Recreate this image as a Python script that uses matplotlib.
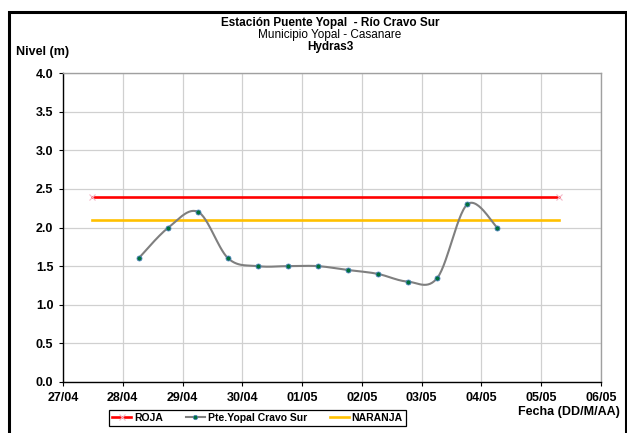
import matplotlib
matplotlib.use("Agg")
import matplotlib.pyplot as plt
import matplotlib.dates as mdates
from matplotlib.patches import Rectangle
from matplotlib.lines import Line2D
import numpy as np
import pandas as pd

plt.rcParams['font.family'] = ['Liberation Sans', 'DejaVu Sans']

# nivel del rio (cada 12 h)
fechas = ["2021-04-28 06:20", "2021-04-28 18:20", "2021-04-29 06:20", "2021-04-29 18:20",
          "2021-04-30 06:20", "2021-04-30 18:20", "2021-05-01 06:20", "2021-05-01 18:20",
          "2021-05-02 06:20", "2021-05-02 18:20", "2021-05-03 06:20", "2021-05-03 18:20",
          "2021-05-04 06:20"]
nivel = [1.6, 2.0, 2.2, 1.6, 1.5, 1.5, 1.5, 1.45, 1.4, 1.3, 1.35, 2.3, 2.0]

# umbrales de alerta
fechas_umbral = ["2021-04-27 11:40", "2021-05-05 07:10"]
roja = [2.4, 2.4]
naranja = [2.1, 2.1]

ticks_x = pd.date_range("2021-04-27", "2021-05-06", freq="D")
ticks_y = [0.0, 0.5, 1.0, 1.5, 2.0, 2.5, 3.0, 3.5, 4.0]


def suavizar(x, y, n=30):
    # curva suavizada tipo Excel (bezier con puntos de control catmull-rom)
    x = np.asarray(x, float); y = np.asarray(y, float)
    px = np.concatenate([[x[0]], x, [x[-1]]])
    py = np.concatenate([[y[0]], y, [y[-1]]])
    xs, ys = [], []
    t = np.linspace(0, 1, n)
    for i in range(len(x) - 1):
        p0 = np.array([px[i + 1], py[i + 1]])
        p3 = np.array([px[i + 2], py[i + 2]])
        p1 = p0 + (np.array([px[i + 2], py[i + 2]]) - np.array([px[i], py[i]])) / 6
        p2 = p3 - (np.array([px[i + 3], py[i + 3]]) - np.array([px[i + 1], py[i + 1]])) / 6
        b = ((1 - t) ** 3)[:, None] * p0 + (3 * (1 - t) ** 2 * t)[:, None] * p1 \
            + (3 * (1 - t) * t ** 2)[:, None] * p2 + (t ** 3)[:, None] * p3
        xs.extend(b[:, 0]); ys.extend(b[:, 1])
    return np.array(xs), np.array(ys)


W, H = 627, 433
fig = plt.figure(figsize=(W / 100, H / 100), dpi=100)
ax = fig.add_axes([63 / W, 1 - 382 / H, (601 - 63) / W, (382 - 73) / H])

xd = mdates.date2num(pd.to_datetime(fechas))
xu = mdates.date2num(pd.to_datetime(fechas_umbral))

ax.plot(xu, roja, color='#FF0000', lw=1.9, marker='x', ms=4, mec='#F4B8C8', mew=0.8,
        label='ROJA', zorder=3)
sx, sy = suavizar(xd, nivel)
ax.plot(sx, sy, color='#7F7F7F', lw=1.5, zorder=4)
ax.plot(xd, nivel, ls='none', marker='o', ms=3.6, mfc='#00703C', mec='#4F81BD', mew=0.6,
        zorder=5)
ax.plot(xu, naranja, color='#FFC000', lw=1.9, label='NARANJA', zorder=3)

ax.set_xlim(mdates.date2num(ticks_x[0]), mdates.date2num(ticks_x[-1]))
ax.set_ylim(0, 4)
ax.set_xticks(mdates.date2num(ticks_x))
ax.set_yticks(ticks_y)
ax.xaxis.set_major_formatter(mdates.DateFormatter('%d/%m'))
ax.yaxis.set_major_formatter(plt.FuncFormatter(lambda v, p: f"{v:.1f}"))
ax.grid(True, color='#D0D0D0', lw=0.9)
ax.set_axisbelow(True)
for s in ['top', 'right']:
    ax.spines[s].set_color('#A0A0A0')
    ax.spines[s].set_linewidth(1.0)
for s in ['left', 'bottom']:
    ax.spines[s].set_color('black')
    ax.spines[s].set_linewidth(1.0)
ax.tick_params(axis='both', direction='out', length=3, width=0.8, labelsize=9, pad=4)
for lab in ax.get_xticklabels() + ax.get_yticklabels():
    lab.set_fontweight('bold')

# leyenda
handles = [
    Line2D([], [], color='#FF0000', lw=1.9, marker='x', ms=4, mec='#F4B8C8', mew=0.8),
    Line2D([], [], color='#7F7F7F', lw=1.5, marker='o', ms=3.2, mfc='#00703C', mec='#4F81BD', mew=0.5),
    Line2D([], [], color='#FFC000', lw=1.9),
]
leg = fig.legend(handles, ['ROJA', 'Pte.Yopal Cravo Sur', 'NARANJA'], ncol=3,
                 loc='center', bbox_to_anchor=(257.5 / W, 1 - 418 / H),
                 fancybox=False, edgecolor='black', framealpha=1,
                 prop={'size': 7.5, 'weight': 'bold'}, handlelength=1.8,
                 handletextpad=0.3, columnspacing=2.2, borderpad=0.3)
leg.get_frame().set_linewidth(0.9)

# titulos
fig.text(330 / W, 1 - 23 / H, "Estación Puente Yopal  - Río Cravo Sur", ha='center', va='center',
         fontsize=8.5, fontweight='bold')
fig.text(330 / W, 1 - 35 / H, "Municipio Yopal - Casanare", ha='center', va='center', fontsize=8.5)
fig.text(330 / W, 1 - 47 / H, "Hydras3", ha='center', va='center', fontsize=8.5, fontweight='bold')
fig.text(16 / W, 1 - 52 / H, "Nivel (m)", ha='left', va='center', fontsize=9, fontweight='bold')
fig.text(620 / W, 1 - 412 / H, "Fecha (DD/M/AA)", ha='right', va='center', fontsize=9,
         fontweight='bold')

# marco del grafico
fig.patches.append(Rectangle((8.5 / W, -0.1), (625.5 - 8.5) / W, 1.1 - 12.5 / H,
                             transform=fig.transFigure, fill=False, ec='black', lw=2.2))

fig.savefig('out.png', dpi=100)
